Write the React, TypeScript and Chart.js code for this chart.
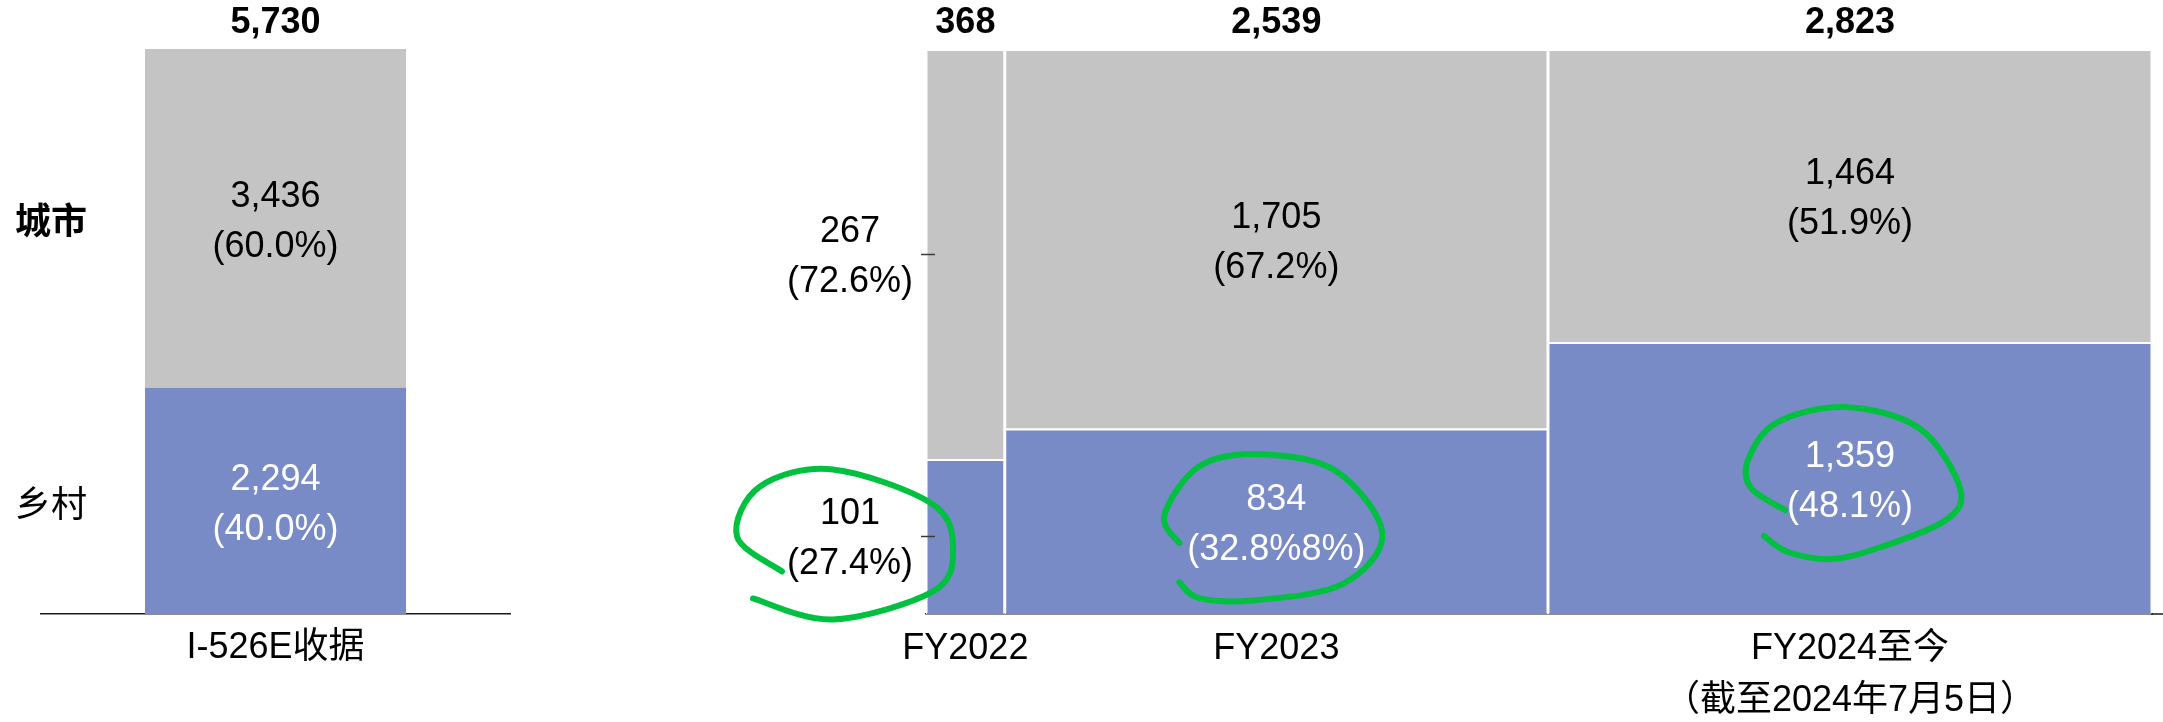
import React, { useEffect, useRef } from 'react';
import { Chart, registerables } from 'chart.js';

Chart.register(...registerables);

// ---------- data ----------
const seriesNames = ['城市', '乡村'];

const leftCategories = ['I-526E收据'];
const leftUrban = [3436];
const leftRural = [2294];
const leftUrbanPct = ['60.0%'];
const leftRuralPct = ['40.0%'];

const fyCategories = [['FY2022'], ['FY2023'], ['FY2024至今', '（截至2024年7月5日）']];
const fyUrban = [267, 1705, 1464];
const fyRural = [101, 834, 1359];
const fyUrbanPct = ['72.6%', '67.2%', '51.9%'];
const fyRuralPct = ['27.4%', '32.8%8%', '48.1%'];

// ---------- styles ----------
const GRAY = '#C4C4C4';
const BLUE = '#788BC6';
const GREEN = '#00C040';
const AXIS = '#1a1a1a';
const FONT = "'Liberation Sans', Arial, 'Noto Sans CJK SC', sans-serif";

const fmt = (n: number) => n.toLocaleString('en-US');

const leftTotal = leftUrban.map((u, i) => u + leftRural[i]);
const fyTotal = fyUrban.map((u, i) => u + fyRural[i]);
const fyStarts = fyTotal.map((_, i) => fyTotal.slice(0, i).reduce((a, b) => a + b, 0));
const fyMids = fyStarts.map((s, i) => s + fyTotal[i] / 2);
const fyGrand = fyTotal.reduce((a, b) => a + b, 0);

// hand-drawn annotation loops (pixel offsets around the annotated label)
const loopShapes: { index: number; pts: number[][] }[] = [
  { index: 0, pts: [[-68, 35], [-113, 0], [-90, -50], [-17, -67], [83, -32], [103, 14], [83, 55], [-17, 83], [-97, 62]] },
  { index: 1, pts: [[-97, 22], [-112, -6], [-77, -55], [-15, -67], [60, -50], [106, 13], [66, 63], [-21, 79], [-77, 77], [-97, 61]] },
  { index: 2, pts: [[-65, 32], [-99, 10], [-102, -18], [-74, -55], [-6, -71], [69, -50], [110, 10], [96, 42], [31, 69], [-18, 81], [-62, 74], [-86, 58]] },
];

// ---------- plugins ----------
function valueLabelPlugin(skip: number[]) {
  return {
    id: 'valueLabels',
    afterDatasetsDraw(chart: any) {
      const ctx = chart.ctx;
      ctx.save();
      ctx.font = `36px ${FONT}`;
      ctx.textAlign = 'center';
      ctx.textBaseline = 'middle';
      chart.data.datasets.forEach((ds: any, di: number) => {
        const meta = chart.getDatasetMeta(di);
        meta.data.forEach((el: any, i: number) => {
          if (skip.includes(i)) return;
          const cy = (el.y + el.base) / 2 + 4;
          ctx.fillStyle = ds.textColor;
          ctx.fillText(fmt(ds.counts[i]), el.x, cy - 25);
          ctx.fillText(`(${ds.pcts[i]})`, el.x, cy + 25);
        });
      });
      ctx.restore();
    },
  };
}

const marimekkoPlugin = {
  id: 'marimekko',
  afterDatasetsUpdate(chart: any) {
    const xs = chart.scales.x;
    chart.data.datasets.forEach((_: any, di: number) => {
      const meta = chart.getDatasetMeta(di);
      meta.data.forEach((el: any, i: number) => {
        const l = xs.getPixelForValue(fyStarts[i]);
        const r = xs.getPixelForValue(fyStarts[i] + fyTotal[i]);
        el.x = (l + r) / 2;
        el.width = r - l;
      });
    });
  },
};

const yTickMarksPlugin = {
  id: 'yTickMarks',
  afterDatasetsDraw(chart: any) {
    const ctx = chart.ctx;
    const ys = chart.scales.y;
    const left = chart.chartArea.left;
    ctx.save();
    ctx.strokeStyle = '#3a3a3a';
    ctx.lineWidth = 1.5;
    ys.ticks.forEach((t: any) => {
      const py = Math.round(ys.getPixelForValue(t.value)) + 0.5;
      ctx.beginPath();
      ctx.moveTo(left - 5, py);
      ctx.lineTo(left + 9, py);
      ctx.stroke();
    });
    ctx.restore();
  },
};

// the baseline continues a little past the last column, to the edge of the picture
const axisExtendPlugin = {
  id: 'axisExtend',
  afterDraw(chart: any) {
    const ctx = chart.ctx;
    const { right, bottom } = chart.chartArea;
    ctx.save();
    ctx.strokeStyle = AXIS;
    ctx.lineWidth = 1.5;
    ctx.beginPath();
    ctx.moveTo(right - 1, bottom);
    ctx.lineTo(chart.width, bottom);
    ctx.stroke();
    ctx.restore();
  },
};

function drawSmooth(ctx: CanvasRenderingContext2D, p: number[][]) {
  ctx.beginPath();
  ctx.moveTo(p[0][0], p[0][1]);
  for (let i = 0; i < p.length - 1; i++) {
    const p0 = p[Math.max(0, i - 1)];
    const p1 = p[i];
    const p2 = p[i + 1];
    const p3 = p[Math.min(p.length - 1, i + 2)];
    const c1x = p1[0] + (p2[0] - p0[0]) / 6;
    const c1y = p1[1] + (p2[1] - p0[1]) / 6;
    const c2x = p2[0] - (p3[0] - p1[0]) / 6;
    const c2y = p2[1] - (p3[1] - p1[1]) / 6;
    ctx.bezierCurveTo(c1x, c1y, c2x, c2y, p2[0], p2[1]);
  }
  ctx.stroke();
}

const loopsPlugin = {
  id: 'loops',
  afterDraw(chart: any) {
    const ctx = chart.ctx;
    const meta = chart.getDatasetMeta(0); // rural dataset
    const ys = chart.scales.y;
    ctx.save();
    ctx.strokeStyle = GREEN;
    ctx.lineWidth = 6;
    ctx.lineCap = 'round';
    ctx.lineJoin = 'round';
    loopShapes.forEach((shape) => {
      let ax: number, ay: number;
      if (shape.index === 0) {
        ax = chart.chartArea.left - 76;
        ay = ys.getPixelForValue((fyRural[0] / fyTotal[0]) * 50);
      } else {
        const el = meta.data[shape.index];
        ax = el.x;
        ay = (el.y + el.base) / 2;
      }
      drawSmooth(ctx, shape.pts.map(([dx, dy]) => [ax + dx, ay + dy]));
    });
    ctx.restore();
  },
};

const fitH = (h: number) => (s: any) => {
  s.height = h;
  s.paddingLeft = 0;
  s.paddingRight = 0;
};
const fitW = (w: number) => (s: any) => {
  s.width = w;
  s.paddingTop = 0;
  s.paddingBottom = 0;
};

// ---------- configs ----------
function leftConfig(): any {
  const ruralShare = leftRural.map((v, i) => (v / leftTotal[i]) * 100);
  const urbanShare = leftUrban.map((v, i) => (v / leftTotal[i]) * 100);
  return {
    type: 'bar',
    data: {
      labels: leftCategories,
      datasets: [
        { label: seriesNames[1], data: ruralShare, backgroundColor: BLUE, counts: leftRural, pcts: leftRuralPct, textColor: '#ffffff', borderWidth: 0 },
        { label: seriesNames[0], data: urbanShare, backgroundColor: GRAY, counts: leftUrban, pcts: leftUrbanPct, textColor: '#000000', borderWidth: 0 },
      ],
    },
    options: {
      responsive: false,
      animation: false,
      devicePixelRatio: 1,
      layout: { padding: { left: 15, right: 50, top: 0, bottom: 0 } },
      datasets: { bar: { barPercentage: 0.5565, categoryPercentage: 1 } },
      plugins: { legend: { display: false }, tooltip: { enabled: false } },
      scales: {
        x: {
          stacked: true,
          position: 'bottom',
          z: 1,
          grid: { display: false, drawTicks: false },
          border: { display: true, color: AXIS, width: 1.5 },
          ticks: { color: '#000', padding: 8, maxRotation: 0, autoSkip: false, font: { size: 36, family: FONT, lineHeight: 52 / 36 } },
          afterFit: fitH(108),
        },
        x2: {
          type: 'category',
          labels: leftTotal.map(fmt),
          position: 'top',
          offset: true,
          grid: { display: false, drawTicks: false },
          border: { display: false },
          ticks: { color: '#000', padding: 4, font: { size: 36, weight: 'bold', family: FONT, lineHeight: 1.2 } },
          afterFit: fitH(49),
        },
        y: {
          stacked: true,
          min: 0,
          max: 100,
          grid: { display: false, drawTicks: false },
          border: { display: false },
          afterBuildTicks: (s: any) => {
            s.ticks = [{ value: ruralShare[0] / 2 }, { value: ruralShare[0] + urbanShare[0] / 2 }];
          },
          ticks: {
            mirror: true,
            crossAlign: 'near',
            padding: -26,
            labelOffset: 6,
            autoSkip: false,
            color: '#000',
            font: (c: any) => ({ size: 36, family: FONT, weight: c.index === 1 ? 'bold' : 'normal' }),
            callback: (_v: any, i: number) => [seriesNames[1], seriesNames[0]][i],
          },
          afterFit: fitW(26),
        },
      },
    },
    plugins: [valueLabelPlugin([])],
  };
}

function rightConfig(): any {
  const ruralShare = fyRural.map((v, i) => (v / fyTotal[i]) * 100);
  const urbanShare = fyUrban.map((v, i) => (v / fyTotal[i]) * 100);
  const border = { top: 2, left: 1.5, right: 1.5, bottom: 0 };
  return {
    type: 'bar',
    data: {
      datasets: [
        {
          label: seriesNames[1],
          data: fyMids.map((m, i) => ({ x: m, y: ruralShare[i] })),
          backgroundColor: BLUE, borderColor: '#ffffff', borderWidth: border, borderSkipped: false,
          counts: fyRural, pcts: fyRuralPct, textColor: '#ffffff',
        },
        {
          label: seriesNames[0],
          data: fyMids.map((m, i) => ({ x: m, y: urbanShare[i] })),
          backgroundColor: GRAY, borderColor: '#ffffff', borderWidth: border, borderSkipped: false,
          counts: fyUrban, pcts: fyUrbanPct, textColor: '#000000',
        },
      ],
    },
    options: {
      responsive: false,
      animation: false,
      devicePixelRatio: 1,
      layout: { padding: { left: 0, right: 11, top: 0, bottom: 0 } },
      plugins: { legend: { display: false }, tooltip: { enabled: false } },
      scales: {
        x: {
          type: 'linear',
          min: 0,
          max: fyGrand,
          stacked: true,
          offset: false,
          z: 1,
          grid: { display: false, drawTicks: false },
          border: { display: true, color: AXIS, width: 1.5 },
          afterBuildTicks: (s: any) => { s.ticks = fyMids.map((v) => ({ value: v })); },
          ticks: {
            color: '#000', padding: 9, maxRotation: 0, autoSkip: false,
            font: { size: 36, family: FONT, lineHeight: 52 / 36 },
            callback: (_v: any, i: number) => fyCategories[i],
          },
          afterFit: fitH(108),
        },
        x2: {
          type: 'linear',
          position: 'top',
          min: 0,
          max: fyGrand,
          offset: false,
          grid: { display: false, drawTicks: false },
          border: { display: false },
          afterBuildTicks: (s: any) => { s.ticks = fyMids.map((v) => ({ value: v })); },
          ticks: {
            color: '#000', padding: 4, autoSkip: false, maxRotation: 0,
            font: { size: 36, weight: 'bold', family: FONT, lineHeight: 1.2 },
            callback: (_v: any, i: number) => fmt(fyTotal[i]),
          },
          afterFit: fitH(49),
        },
        y: {
          stacked: true,
          min: 0,
          max: 100,
          grid: { display: false, drawTicks: false },
          border: { display: false },
          afterBuildTicks: (s: any) => {
            s.ticks = [{ value: ruralShare[0] / 2 }, { value: ruralShare[0] + urbanShare[0] / 2 }];
          },
          ticks: {
            crossAlign: 'center',
            padding: 13,
            labelOffset: 3,
            autoSkip: false,
            color: '#000',
            font: { size: 36, family: FONT, lineHeight: 50 / 36 },
            callback: (_v: any, i: number) =>
              i === 0
                ? [fmt(fyRural[0]), `(${fyRuralPct[0]})`]
                : [fmt(fyUrban[0]), `(${fyUrbanPct[0]})`],
          },
          afterFit: fitW(226),
        },
      },
    },
    plugins: [marimekkoPlugin, valueLabelPlugin([0]), yTickMarksPlugin, axisExtendPlugin, loopsPlugin],
  };
}

export default function App() {
  const leftRef = useRef<HTMLCanvasElement>(null);
  const rightRef = useRef<HTMLCanvasElement>(null);

  useEffect(() => {
    document.body.style.margin = '0';
    const c1 = new Chart(leftRef.current as HTMLCanvasElement, leftConfig());
    const c2 = new Chart(rightRef.current as HTMLCanvasElement, rightConfig());
    return () => {
      c1.destroy();
      c2.destroy();
    };
  }, []);

  return (
    <div style={{ position: 'relative', width: 2163, height: 722, background: '#ffffff', overflow: 'hidden' }}>
      <canvas ref={leftRef} width={560} height={722} style={{ position: 'absolute', left: 0, top: 0, width: 560, height: 722 }} />
      <canvas ref={rightRef} width={1463} height={722} style={{ position: 'absolute', left: 700, top: 0, width: 1463, height: 722 }} />
    </div>
  );
}
